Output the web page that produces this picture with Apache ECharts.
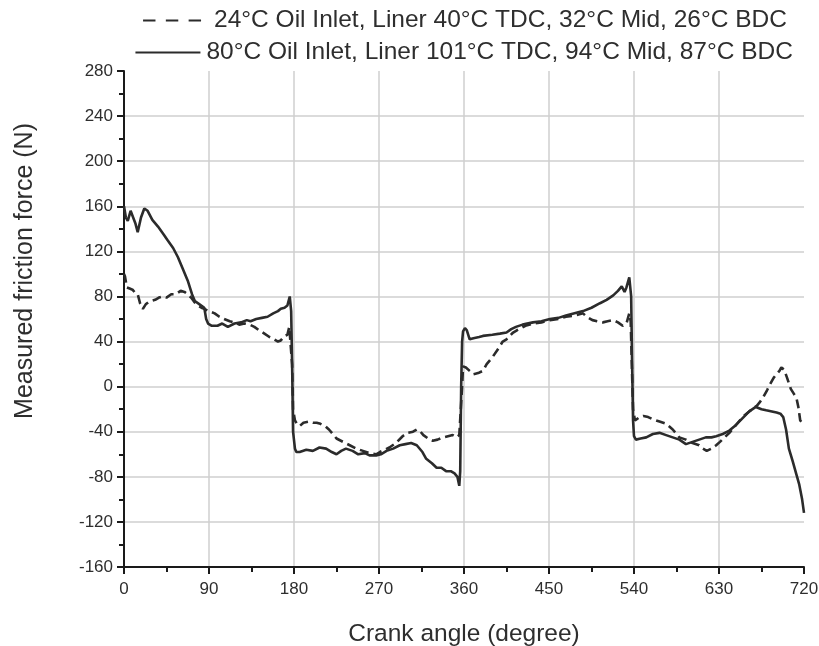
<!DOCTYPE html>
<html>
<head>
<meta charset="utf-8">
<script src="https://cdn.jsdelivr.net/npm/echarts@6/dist/echarts.min.js"></script>
<style>
  html, body { margin: 0; padding: 0; background: #fff; }
  #chart { width: 819px; height: 646px; }
</style>
</head>
<body>
<div id="chart"></div>
<script>
// Piston-ring friction over one engine cycle (crank angle 0–720°)
const seriesNames = [
  '24°C Oil Inlet, Liner 40°C TDC, 32°C Mid, 26°C BDC',
  '80°C Oil Inlet, Liner 101°C TDC, 94°C Mid, 87°C BDC'
];

// Cold run (dashed)
const coldAngle = [0,1,3,6,9,12,14.5,17,20,23,26,29,33,37,41,45,50,55,60,64,67.5,71,74.5,78,82,85,90,96,101,106,112,117,122,127.5,133,138,143,148.7,154,159,163,166,170,173,175,176.5,178,179,
  181,183,186,190,196,200,204,208,213,217,221,225,232,239,246,253,260,267,271,276,281,288,295,300,306,310,313,317,322,327,332,338,343,348,352,355,357,358,359,
  362,366,370,375,380,384,390,395,401,405,412,416,425,433,442,451,460,468,477,486,490,496,501,507,512,518,523,528,532,535,536.5,538,539,
  541,543,546,550,555,560,567,574,581,588,595,602,609,613,617,622,627,631,636,641,648,655,662,670,673,677,681,684,688,691,694,696,699,702,706,709,712,714,716,718];
const coldForce = [100,98,88,87,86,83,82,74,69,73,75,76,77,79,80,79,82,82,85,84,82,79,75,72,70,69,67,65,62,60,58,57,55,56,55,53,50,47,44,42,40,41,45,46,53,52,20,-20,
  -30,-33,-35,-32,-31,-32,-32,-33,-35,-38,-42,-46,-49,-52,-55,-57,-59,-60,-58,-56,-54,-50,-44,-41,-40,-38,-39,-43,-46,-48,-47,-45,-44,-43,-45,-43,-42,0,18,
  17,14,11,12,14,20,26,32,40,42,48,50,54,56,57,59,60,62,63,65,62,59,58,57,58,59,57,54,56,65,58,10,-20,
  -30,-30,-27,-26,-27,-29,-31,-33,-38,-45,-47,-50,-52,-55,-57,-55,-52,-49,-45,-41,-34,-27,-22,-17,-14,-9,-3,2,8,11,14,17,15,8,-2,-6,-10,-18,-30,-32];

// Hot run (solid)
const hotAngle = [0,2,4,7,9,12,14.5,18,21.5,25,30,36,42,46,52,57,62,67.5,72,75,80,85,87,89,93,99,104,110,117,124,130,134,140,146,152,158,163,166,170,173,175.5,177,178,179,
  181,182.5,186,193,200,207,214,220,225,230,235,242,248,255,260,267,272,278,285,292,298,304,310,316,320,326,331,336,341,346,350,353,355,356,357,358,359,
  361,363,366,370,376,380,390,398,405,410,415,422,433,442,451,460,468,477,486,495,504,511,518,523,527,530,532,535,537,538,539,
  540,542,547,553,560,567,574,581,588,595,602,609,616,622,627,634,641,648,655,662,669,675,680,686,691,695,698,701,704,708,712,715,718,720];
const hotForce = [160,150,147,156,155,145,137,150,158,156,148,142,135,130,123,115,105,94,82,76,73,70,60,56,54,54,56,53,56,57,59,58,60,61,62,65,67,69,70,72,80,67,20,-40,
  -55,-58,-58,-56,-57,-54,-55,-58,-60,-57,-55,-57,-60,-59,-61,-61,-60,-57,-55,-52,-51,-50,-52,-58,-64,-68,-72,-72,-75,-75,-77,-80,-88,-75,0,40,49,
  52,50,42,43,44,45,46,47,48,51,53,55,57,58,60,61,63,65,67,70,74,77,81,85,89,84,88,97,80,20,-30,
  -44,-47,-46,-45,-42,-41,-43,-45,-47,-51,-49,-47,-45,-45,-44,-42,-39,-34,-28,-22,-18,-20,-21,-22,-23,-24,-27,-38,-55,-66,-78,-87,-100,-112];

const xTicks = { min: 0, max: 720, step: 90 };
const yTicks = { min: -160, max: 280, step: 40 };

const pair = (xs, ys) => xs.map((x, i) => [x, ys[i]]);

const ink = '#2b2b2b';
const textInk = '#2e2e2e';
const font = 'Liberation Sans, Arial, sans-serif';

const chart = echarts.init(document.getElementById('chart'), null, { renderer: 'canvas' });

chart.setOption({
  animation: false,
  backgroundColor: '#ffffff',
  grid: { left: 124, right: 15, top: 71, bottom: 79, containLabel: false, outerBoundsMode: 'none' },
  legend: [
    {
      data: [seriesNames[0]],
      right: 27, top: 3,
      itemWidth: 58, itemHeight: 14,
      icon: 'path://M0,6 L12,6 L12,8 L0,8 Z M22,6 L34,6 L34,8 L22,8 Z M44,6 L56,6 L56,8 L44,8 Z',
      textStyle: { fontFamily: font, fontSize: 24.5, color: textInk, padding: [0, 0, 0, 8] }
    },
    {
      data: [seriesNames[1]],
      right: 21, top: 35,
      itemWidth: 65, itemHeight: 14,
      icon: 'path://M0,6 L65,6 L65,8.2 L0,8.2 Z',
      textStyle: { fontFamily: font, fontSize: 24.5, color: textInk, padding: [0, 0, 0, 1] }
    }
  ],
  xAxis: {
    type: 'value',
    min: xTicks.min, max: xTicks.max, interval: xTicks.step,
    name: 'Crank angle (degree)',
    nameLocation: 'middle', nameGap: 55,
    nameTextStyle: { fontFamily: font, fontSize: 24.5, color: textInk },
    axisLine: { show: true, onZero: false, lineStyle: { color: '#1a1a1a', width: 2 } },
    axisTick: { show: true, inside: false, length: 7, lineStyle: { color: '#1a1a1a', width: 2 } },
    minorTick: { show: true, splitNumber: 2, length: 5, lineStyle: { color: '#1a1a1a', width: 2 } },
    axisLabel: { fontFamily: font, fontSize: 17, color: textInk, margin: 14 },
    splitLine: { show: true, showMinLine: false, showMaxLine: false, lineStyle: { color: '#cfcfcf', width: 1.5 } }
  },
  yAxis: {
    type: 'value',
    min: yTicks.min, max: yTicks.max, interval: yTicks.step,
    axisLine: { show: true, onZero: false, lineStyle: { color: '#1a1a1a', width: 2 } },
    axisTick: { show: true, inside: false, length: 7, lineStyle: { color: '#1a1a1a', width: 2 } },
    minorTick: { show: true, splitNumber: 2, length: 5, lineStyle: { color: '#1a1a1a', width: 2 } },
    axisLabel: { fontFamily: font, fontSize: 17, color: textInk, margin: 11 },
    splitLine: { show: true, showMinLine: false, showMaxLine: false, lineStyle: { color: '#cfcfcf', width: 1.5 } }
  },
  graphic: [{
    type: 'text',
    left: 13, top: 123,
    rotation: Math.PI / 2,
    style: {
      text: 'Measured friction force (N)',
      fontFamily: font, fontSize: 25, fill: textInk
    }
  }],
  series: [
    {
      name: seriesNames[0],
      type: 'line',
      data: pair(coldAngle, coldForce),
      showSymbol: false, symbol: 'none',
      lineStyle: { color: ink, width: 2.6, type: [9, 5] },
      itemStyle: { color: ink },
      z: 3
    },
    {
      name: seriesNames[1],
      type: 'line',
      data: pair(hotAngle, hotForce),
      showSymbol: false, symbol: 'none',
      lineStyle: { color: ink, width: 2.6, type: 'solid' },
      itemStyle: { color: ink },
      z: 4
    }
  ]
});
</script>
</body>
</html>
